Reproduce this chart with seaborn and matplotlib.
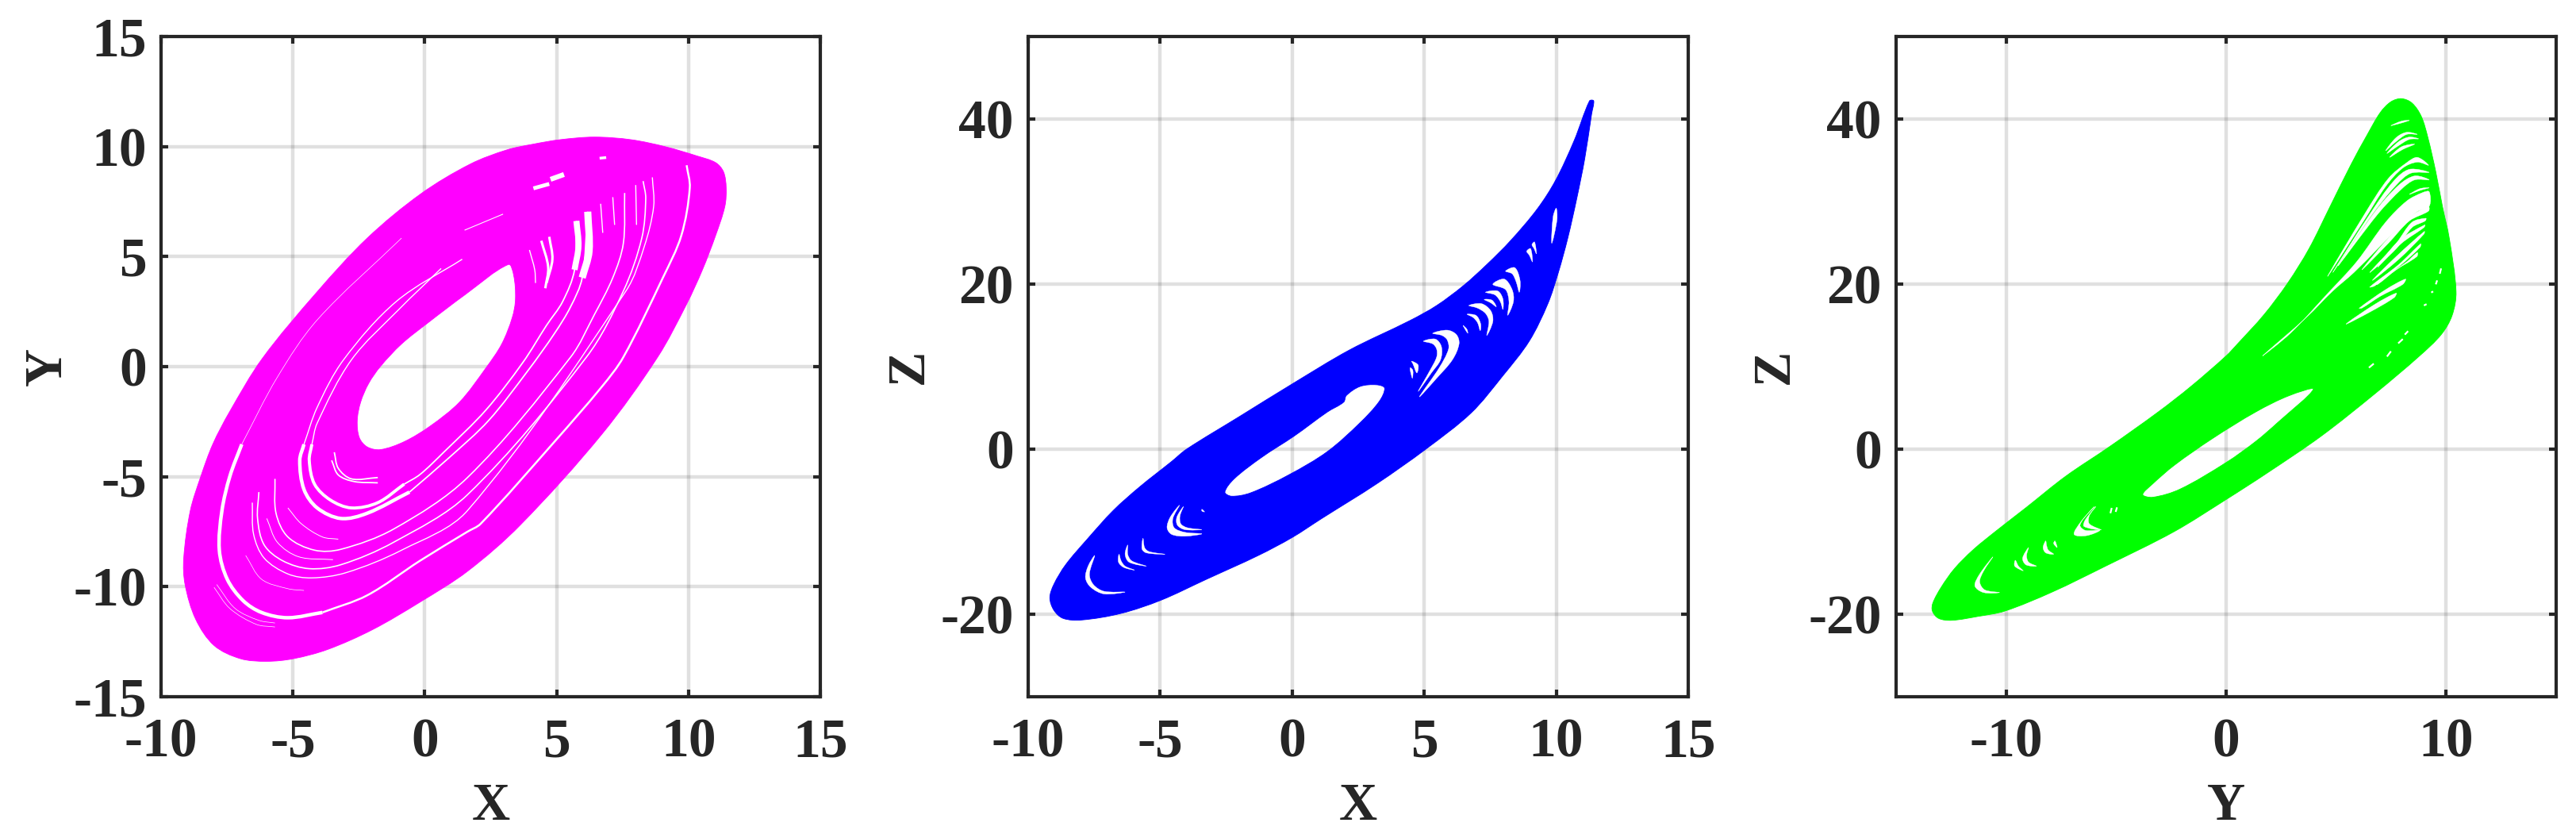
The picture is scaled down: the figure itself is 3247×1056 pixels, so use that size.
import numpy as np
import seaborn as sns
import matplotlib.pyplot as plt
from matplotlib.path import Path
from matplotlib.patches import PathPatch

# outlines, clockwise
xy_outer_x = [-8.04, -8.49, -8.89, -9.14, -9.09, -8.69, -7.99, -6.99, -5.99, -4.98, -3.68, -1.98, -0.18, 1.62, 3.62, 6.73, 8.83,
              9.93, 10.53, 11.03, 11.38, 11.43, 11.33, 11.03, 10.33, 9.13, 7.83, 6.43, 5.12, 4.12, 3.12, 1.72, -0.15, -2.18, -4.08, -6.16, -7.4]
xy_outer_y = [-3.53, -4.98, -6.54, -8.7, -9.9, -11.47, -12.67, -13.27, -13.39, -13.27, -12.85, -11.95, -10.7, -9.3, -7.2, -3.05, 0.43,
              2.84, 4.4, 5.96, 7.28, 8.13, 8.85, 9.27, 9.57, 9.99, 10.31, 10.43, 10.31, 10.11, 9.85, 9.2, 7.85, 5.84, 3.4, 0.37, -2.05]
xy_hole_x = [3.17, 3.37, 3.44, 3.32, 2.92, 2.32, 1.32, 0.22, -0.78, -1.68, -2.18, -2.48, -2.56, -2.43, -2.13, -1.68, -0.88, 0.12, 1.52]
xy_hole_y = [4.64, 4.16, 3.08, 2.24, 1.03, -0.06, -1.61, -2.69, -3.41, -3.77, -3.65, -3.23, -2.45, -1.61, -0.77, 0.01, 1.03, 1.99, 3.26]

xz_outer_x = [11.26, 10.68, 9.98, 9.28, 8.28, 7.38, 6.48, 5.47, 4.47, 2.16, 0.0, -2.0, -4.0, -4.57, -5.77, -6.78, -7.78, -8.58, -9.03, -9.18, -9.03, -8.68, -7.98,
              -6.48, -4.97, -3.27, -1.27, 0.0, 1.12, 3.2, 5.06, 6.78, 7.98, 8.98, 9.68, 10.08, 10.44, 10.78, 11.08, 11.34, 11.42]
xz_outer_z = [42.2, 37.4, 32.6, 29.1, 25.3, 22.4, 19.8, 17.4, 15.6, 12.0, 7.9, 3.95, 0.0, -1.5, -4.55, -7.44, -10.97, -14.0, -16.4, -18.0, -19.5, -20.5, -20.7,
              -19.9, -18.3, -15.8, -12.86, -10.7, -8.4, -4.2, 0.0, 4.4, 8.9, 13.1, 17.6, 21.4, 25.6, 30.4, 35.2, 40.6, 42.2]
xz_hole_x = [3.5, 3.2, 2.57, 2.05, 1.95, 1.33, 0.08, -1.16, -2.2, -2.55, -2.3, -1.58, -0.12, 1.33, 2.57, 3.3]
xz_hole_z = [7.4, 7.8, 7.6, 6.5, 5.7, 4.5, 1.6, -1.0, -3.6, -5.2, -5.7, -5.3, -3.1, -0.3, 3.2, 5.8]

yz_outer_y = [0.52, 1.72, 2.8, 3.77, 4.73, 5.69, 6.41, 7.01, 7.49, 7.97, 8.45, 8.87, 9.17, 9.53, 9.83, 10.14, 10.45, 10.27, 9.78, 8.79, 6.8, 4.33, 1.86, 0.0, -2.37,
              -5.5, -7.9, -10.06, -11.27, -12.47, -13.07, -13.35, -13.33, -12.95, -12.35, -11.5, -10.42, -9.1, -7.3, -5.3, -3.09, -1.6, 0.0]
yz_outer_z = [12.76, 16.29, 20.13, 24.3, 29.43, 34.56, 38.08, 40.8, 42.09, 42.47, 41.93, 40.32, 37.76, 33.59, 29.43, 25.58, 19.1, 16.2, 13.9, 11.3, 6.8, 1.6, -2.9, -6.1, -10.0,
              -14.2, -17.3, -19.62, -20.26, -20.74, -20.5, -19.62, -18.65, -16.73, -14.49, -12.2, -9.84, -7.1, -3.3, 0.3, 4.5, 7.6, 11.3]
yz_hole_y = [3.96, 2.85, 1.36, -0.62, -2.35, -3.34, -3.79, -3.34, -2.1, 0.0, 1.36, 2.35]
yz_hole_z = [7.25, 6.47, 4.53, 1.29, -1.94, -4.21, -5.5, -5.83, -4.85, -1.62, 0.97, 3.24]

# white streaks in the X-Y band, as x list, y list
xy_gaps = [
    ([5.75, 5.68, 5.23, 4.62, 3.72, 2.32, 0.72, -0.18, -0.78], [6.62, 4.4, 2.96, 1.88, 0.19, -1.97, -3.89, -4.9, -5.34]),
    ([6.18, 5.97, 5.53, 4.92, 3.92, 2.42, 0.92, -0.58], [7.04, 4.04, 2.72, 1.51, -0.17, -2.45, -4.14, -5.7]),
    ([-0.78, -1.78, -2.78, -3.58, -4.18, -4.38, -4.28], [-5.34, -6.18, -6.42, -6.06, -5.34, -4.26, -3.53]),
    ([-0.58, -2.18, -3.18, -4.08, -4.58, -4.74, -4.58], [-5.7, -6.66, -6.9, -6.42, -5.58, -4.26, -3.53]),
    ([-4.28, -4.08, -2.78, -0.98, 0.62], [-3.53, -2.57, 0.31, 2.6, 4.46]),
    ([-4.58, -4.08, -3.08, -1.08, 1.42], [-3.53, -1.85, 0.31, 2.96, 4.88]),
    ([5.75, 5.83, 5.68], [6.62, 5.48, 4.4]),
    ([6.18, 6.23, 5.97], [7.04, 5.24, 4.04]),
    ([9.93, 10.05, 9.73, 9.03, 7.53, 6.73, 4.92, 2.12, 1.62, -0.18, -2.18, -3.88], [9.15, 8.13, 5.96, 4.04, 0.43, -0.89, -3.41, -7.14, -7.5, -8.82, -10.39, -11.17]),
    ([-3.88, -5.19, -6.19, -6.89, -7.49, -7.79, -7.69, -7.39, -6.94], [-11.17, -11.41, -11.17, -10.63, -9.66, -8.34, -6.54, -4.98, -3.53]),
    ([-6.94, -5.6, -4.08, -0.88], [-3.53, -0.5, 2.12, 5.84]),
    ([8.28, 8.38, 8.23, 7.53, 6.13, 1.62, -1.18, -3.18, -4.38, -5.39, -6.09, -6.34, -6.29], [8.43, 7.65, 5.84, 3.43, 0.43, -5.82, -7.98, -9.0, -9.18, -8.82, -8.1, -6.9, -5.7]),
    ([8.63, 8.68, 8.33, 7.63, 1.62, -0.88, -2.98, -4.29, -5.19, -6.09, -6.49, -6.54], [8.6, 7.28, 5.48, 3.44, -6.54, -8.34, -9.36, -9.6, -9.42, -8.7, -7.62, -6.18]),
    ([7.58, 7.53, 7.13, 6.43, 5.53, 1.62, -1.18, -3.18, -4.18, -5.19, -5.64, -5.68], [7.89, 5.6, 4.04, 2.36, 0.43, -5.04, -7.38, -8.3, -8.34, -7.74, -6.66, -5.1]),
    ([-5.99, -5.59, -4.78, -3.48], [-6.9, -7.98, -8.64, -8.77]),
    ([-5.19, -4.68, -3.88, -3.28], [-6.42, -7.14, -7.74, -7.84]),
    ([-3.43, -3.28, -2.78, -1.78], [-3.89, -4.62, -5.1, -5.04]),
    ([-3.53, -3.28, -2.68, -1.78], [-4.26, -4.92, -5.22, -5.28]),
    ([-7.99, -7.39, -6.39, -5.68], [-10.03, -10.99, -11.71, -11.83]),
    ([-7.89, -7.19, -6.29, -5.68], [-9.9, -10.99, -11.53, -11.65]),
    ([-6.79, -6.19, -5.19, -4.58], [-8.58, -9.66, -10.09, -10.17]),
    ([4.72, 4.84, 4.62], [5.9, 4.88, 3.8]),
    ([4.42, 4.68, 4.57], [5.72, 4.52, 3.56]),
    ([3.97, 4.17, 4.2], [5.3, 4.4, 3.8]),
    ([7.13, 7.2], [7.7, 6.44]),
    ([6.67, 6.75], [7.4, 6.08]),
    ([8.0, 8.03], [8.25, 6.44]),
    ([4.12, 4.72], [8.1, 8.3]),
    ([4.77, 5.28], [8.51, 8.73]),
    ([6.63, 6.88], [9.47, 9.5]),
    ([1.51, 2.97], [6.2, 6.93]),
]
xy_gap_widths = [1.3, 1.3, 2.8, 3.2, 1.0, 1.0, 5.5, 6.5, 1.8, 3.2, 0.5, 1.2, 1.0, 1.2, 0.7, 0.7, 1.3, 1.3, 0.5, 0.5, 0.5,
                 2.2, 2.2, 1.0, 1.0, 1.0, 1.0, 3.5, 4.5, 2.5, 0.8]

# white crescents of the X-Z panel, as (x, z) corners
xz_gaps = [
    [(5.32, 14.04), (5.87, 14.42), (6.22, 13.88), (6.32, 12.76), (6.07, 10.84), (5.47, 8.59), (4.82, 6.35), (5.57, 9.87), (5.92, 12.12), (5.87, 13.24), (5.67, 13.78)],
    [(4.97, 13.08), (5.42, 13.34), (5.65, 12.44), (5.62, 10.84), (5.27, 9.23), (4.77, 6.99), (5.22, 9.55), (5.47, 11.16), (5.47, 12.12), (5.32, 12.76)],
    [(6.69, 17.41), (7.17, 17.63), (7.52, 16.77), (7.6, 15.48), (7.37, 13.78), (7.45, 15.48), (7.32, 16.45), (7.02, 17.09)],
    [(6.62, 16.35), (6.97, 16.19), (7.14, 15.16), (7.12, 14.36), (7.02, 15.32), (6.85, 15.96)],
    [(7.6, 19.97), (8.03, 20.61), (8.33, 19.33), (8.38, 17.89), (8.16, 16.22), (8.21, 17.89), (8.08, 19.33)],
    [(8.08, 21.57), (8.43, 21.99), (8.63, 20.45), (8.6, 19.01), (8.48, 20.29), (8.33, 21.25)],
    [(7.32, 19.01), (7.78, 19.17), (7.98, 18.21), (7.98, 16.92), (7.88, 17.89), (7.68, 18.69)],
    [(7.27, 18.14), (7.57, 18.05), (7.73, 17.25), (7.52, 17.73)],
    [(8.88, 23.98), (9.03, 24.3), (9.1, 22.69), (8.98, 23.5)],
    [(9.08, 24.78), (9.18, 25.1), (9.25, 23.66), (9.16, 24.3)],
    [(10.0, 29.2), (10.03, 27.82), (9.83, 24.94), (9.88, 28.14)],
    [(6.47, 15.0), (6.62, 14.52), (6.65, 14.04), (6.52, 14.68)],
    [(4.52, 10.67), (4.77, 10.19), (4.72, 9.23), (4.57, 10.35)],
    [(4.47, 9.87), (4.57, 9.55), (4.55, 8.59), (4.47, 9.55)],
    [(-4.27, -6.8), (-4.62, -8.24), (-4.74, -9.52), (-4.57, -10.32), (-4.07, -10.55), (-3.42, -10.26), (-4.07, -10.07), (-4.47, -9.52), (-4.52, -8.4)],
    [(-4.12, -6.96), (-4.37, -8.24), (-4.35, -9.2), (-4.07, -9.75), (-3.42, -9.75), (-3.97, -9.52), (-4.22, -9.04), (-4.25, -8.08)],
    [(-6.23, -11.61), (-6.33, -12.73), (-6.18, -13.69), (-5.52, -14.17), (-6.08, -13.53), (-6.23, -12.73)],
    [(-5.65, -10.8), (-5.69, -12.09), (-5.52, -12.57), (-4.82, -12.73), (-5.42, -12.41), (-5.59, -11.93)],
    [(-6.56, -12.73), (-6.58, -13.69), (-6.38, -14.33), (-5.97, -14.65), (-6.33, -14.17), (-6.48, -13.53)],
    [(-7.48, -12.89), (-7.73, -14.17), (-7.83, -15.61), (-7.63, -16.73), (-7.13, -17.54), (-6.33, -17.31), (-7.13, -17.22), (-7.53, -16.41), (-7.68, -15.13)],
    [(-3.42, -7.28), (-3.32, -7.6), (-3.42, -7.5)],
]

# white slivers of the Y-Z panel, as (y, z) corners
yz_gaps = [
    [(1.66, 11.32), (2.92, 14.04), (4.61, 18.85), (5.93, 22.7), (7.25, 27.5), (8.21, 30.07), (8.93, 31.09), (9.23, 31.19), (9.23, 29.43), (8.69, 28.79), (7.85, 26.86), (6.89, 24.3), (5.81, 21.41), (4.85, 19.17), (3.65, 15.97)],
    [(4.61, 20.93), (6.29, 28.47), (7.37, 32.79), (8.21, 34.72), (8.69, 35.36), (9.2, 34.4), (8.69, 34.78), (8.03, 34.07), (7.25, 31.83), (6.29, 27.83)],
    [(4.85, 21.41), (6.53, 28.47), (7.61, 32.47), (8.33, 33.91), (9.23, 33.53), (8.39, 33.43), (7.73, 32.0), (6.65, 28.47)],
    [(5.09, 22.22), (6.77, 28.79), (7.85, 32.0), (8.57, 33.11), (9.23, 32.63), (8.57, 32.63), (7.97, 31.51), (6.89, 28.47)],
    [(7.25, 36.16), (7.73, 37.76), (8.21, 38.4), (8.69, 38.14), (8.21, 38.14), (7.73, 37.28)],
    [(7.31, 35.84), (7.85, 37.28), (8.33, 37.82), (8.75, 37.6), (8.33, 37.54), (7.85, 36.8)],
    [(7.49, 39.2), (7.97, 39.75), (8.33, 39.84), (7.97, 39.52)],
    [(7.43, 35.36), (7.97, 36.64), (8.57, 36.96), (8.03, 36.32)],
    [(8.33, 30.87), (8.81, 31.57), (9.23, 31.67), (8.81, 31.35)],
    [(6.17, 21.73), (7.37, 25.58), (8.33, 28.14), (9.2, 29.36), (9.2, 28.85), (8.33, 27.66), (7.37, 24.94)],
    [(6.53, 21.41), (7.73, 24.94), (8.45, 27.5), (9.08, 27.98), (9.05, 27.66), (8.45, 26.86), (7.73, 24.3)],
    [(6.89, 22.06), (7.85, 25.26), (9.03, 27.18), (8.99, 26.86), (7.97, 24.94)],
    [(6.65, 20.45), (7.73, 23.34), (9.01, 26.38), (8.99, 26.06), (7.85, 23.02)],
    [(6.53, 19.65), (7.85, 22.38), (8.84, 24.88), (8.81, 24.46), (7.97, 22.38), (6.77, 19.81)],
    [(6.77, 19.97), (8.21, 22.7), (8.69, 23.82), (8.67, 23.34), (7.73, 21.73), (6.89, 19.97)],
    [(6.05, 17.09), (7.25, 19.33), (8.15, 20.61), (8.03, 19.97), (7.01, 18.53), (6.17, 17.09)],
    [(5.45, 15.16), (6.77, 17.57), (7.73, 18.91), (7.64, 18.37), (6.53, 16.61)],
    [(-5.98, -6.96), (-6.58, -8.72), (-6.91, -10.32), (-6.34, -10.48), (-5.74, -9.84), (-6.4, -9.84), (-6.64, -9.2), (-6.22, -7.6)],
    [(-5.92, -6.96), (-6.4, -8.56), (-6.46, -9.36), (-5.68, -9.78), (-6.22, -9.04), (-6.22, -8.08)],
    [(-10.6, -13.05), (-11.2, -15.13), (-11.42, -16.57), (-11.03, -17.37), (-10.3, -17.37), (-10.97, -17.05), (-11.2, -16.09), (-11.03, -14.81)],
    [(-8.98, -11.92), (-9.25, -13.21), (-9.1, -14.01), (-8.62, -14.17), (-8.98, -13.69), (-9.07, -12.89)],
    [(-9.58, -13.46), (-9.61, -14.17), (-9.22, -14.74), (-9.44, -14.17)],
    [(-8.2, -11.12), (-8.32, -11.92), (-8.2, -12.56), (-7.84, -12.72), (-8.08, -12.24), (-8.16, -11.67)],
    [(-7.78, -11.12), (-7.84, -11.44), (-7.68, -11.92)],
]
# short dashes of the Y-Z panel
yz_dashes = [
    ([8.27, 8.12], [14.3, 13.88]), ([8.03, 7.82], [13.34, 12.82]), ([7.49, 7.31], [11.86, 11.22]), ([6.71, 6.49], [10.36, 9.87]),
    ([9.77, 9.71], [21.9, 21.25]), ([9.59, 9.53], [20.45, 19.97]), ([9.11, 8.99], [17.57, 17.41]), ([9.41, 9.32], [19.11, 18.98]),
    ([-5.26, -5.2], [-7.76, -7.12]), ([-4.96, -5.02], [-7.05, -7.6]),
]

xy_xticks = [-10, -5, 0, 5, 10, 15]
xy_yticks = [-15, -10, -5, 0, 5, 10, 15]
xz_xticks = [-10, -5, 0, 5, 10, 15]
xz_zticks = [-20, 0, 20, 40]
yz_yticks = [-10, 0, 10]
yz_zticks = [-20, 0, 20, 40]

W, H = 3247, 1056
TEXT = '#262626'

sns.set_theme(style='white')
plt.rcParams['font.family'] = ['Liberation Serif', 'DejaVu Serif']
plt.rcParams['font.weight'] = 'bold'
plt.rcParams['axes.unicode_minus'] = False


def curve_path(ax, x, y, closed=False):
    # bezier path through the read points, so the curve stays round between them
    pts = np.column_stack([x, y]).astype(float)
    px = ax.transData.transform(pts)
    n = len(pts)
    idx = np.arange(n)
    if closed:
        prev_i, next_i = np.roll(idx, 1), np.roll(idx, -1)
    else:
        prev_i, next_i = np.maximum(idx - 1, 0), np.minimum(idx + 1, n - 1)
    d_prev = np.linalg.norm(px - px[prev_i], axis=1)
    d_next = np.linalg.norm(px[next_i] - px, axis=1)
    tan = (pts[next_i] - pts[prev_i]) / (d_prev + d_next)[:, None]
    verts = [pts[0]]
    codes = [Path.MOVETO]
    for i in range(n if closed else n - 1):
        j = next_i[i]
        verts += [pts[i] + tan[i] * d_next[i] / 3, pts[j] - tan[j] * d_next[i] / 3, pts[j]]
        codes += [Path.CURVE4] * 3
    return Path(np.array(verts), codes)


def signed_area(x, y):
    x, y = np.asarray(x), np.asarray(y)
    return np.sum(x * np.roll(y, -1) - np.roll(x, -1) * y) / 2


def draw_band(ax, outer_x, outer_y, hole_x, hole_y, color):
    # the hole has to run against the outline or it gets filled
    if signed_area(outer_x, outer_y) * signed_area(hole_x, hole_y) > 0:
        hole_x, hole_y = hole_x[::-1], hole_y[::-1]
    path = Path.make_compound_path(curve_path(ax, outer_x, outer_y, closed=True),
                                   curve_path(ax, hole_x, hole_y, closed=True))
    ax.add_patch(PathPatch(path, facecolor=color, edgecolor=color, linewidth=0.6, zorder=2))


def setup(ax, xlim, ylim, xticks, yticks, xlabel, ylabel, ylabel_x):
    ax.set_xlim(xlim)
    ax.set_ylim(ylim)
    ax.set_xticks(xticks)
    ax.set_yticks(yticks)
    ax.grid(True, color='black', alpha=0.12, linewidth=3.2)
    ax.set_axisbelow(True)
    ax.tick_params(direction='in', length=6.5, width=3, top=True, right=True, bottom=True, left=True,
                   labelsize=50, labelcolor=TEXT, color=TEXT, pad=19)
    ax.tick_params(axis='y', pad=13)
    for spine in ax.spines.values():
        spine.set_visible(True)
        spine.set_color(TEXT)
        spine.set_linewidth(3)
    ax.set_xlabel(xlabel, fontsize=48, fontweight='bold', color=TEXT, va='center')
    ax.set_ylabel(ylabel, fontsize=48, fontweight='bold', color=TEXT, va='center')
    ax.xaxis.set_label_coords(0.5, -0.167)
    ax.yaxis.set_label_coords(ylabel_x, 0.5)


def draw_slivers(ax, gaps):
    for gap in gaps:
        gx, gz = zip(*gap)
        ax.add_patch(PathPatch(curve_path(ax, gx, gz, closed=True), facecolor='white',
                               edgecolor='white', linewidth=0.3, zorder=3))


def draw_streak(ax, x, y, width):
    if len(x) < 3:
        sns.lineplot(x=x, y=y, sort=False, estimator=None, color='white', linewidth=width,
                     solid_capstyle='butt', zorder=3, ax=ax)
    else:
        ax.add_patch(PathPatch(curve_path(ax, x, y), fill=False, edgecolor='white', linewidth=width,
                               capstyle='butt', zorder=3))


fig = plt.figure(figsize=(W / 100, H / 100), dpi=100)
ax1 = fig.add_axes([203 / W, 1 - 878 / H, 831 / W, 832 / H])
ax2 = fig.add_axes([1296 / W, 1 - 878 / H, 832 / W, 832 / H])
ax3 = fig.add_axes([2390 / W, 1 - 878 / H, 832 / W, 832 / H])

setup(ax1, (-10, 15), (-15, 15), xy_xticks, xy_yticks, 'X', 'Y', -0.172)
setup(ax2, (-10, 15), (-30, 50), xz_xticks, xz_zticks, 'X', 'Z', -0.18)
setup(ax3, (-15, 15), (-30, 50), yz_yticks, yz_zticks, 'Y', 'Z', -0.184)

# X-Y
draw_band(ax1, xy_outer_x, xy_outer_y, xy_hole_x, xy_hole_y, '#ff00ff')
for (gx, gy), w in zip(xy_gaps, xy_gap_widths):
    draw_streak(ax1, gx, gy, w)

# X-Z
draw_band(ax2, xz_outer_x, xz_outer_z, xz_hole_x, xz_hole_z, '#0000ff')
draw_slivers(ax2, xz_gaps)

# Y-Z
draw_band(ax3, yz_outer_y, yz_outer_z, yz_hole_y, yz_hole_z, '#00ff00')
draw_slivers(ax3, yz_gaps)
for gy, gz in yz_dashes:
    draw_streak(ax3, gy, gz, 1.6)

fig.savefig('out.png', dpi=100, facecolor='white')
